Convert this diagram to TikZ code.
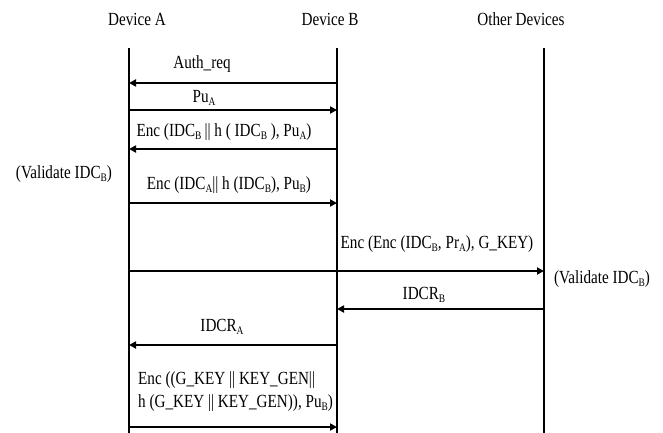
\documentclass[tikz,border=0pt]{standalone}
\usepackage{fontspec}
\setmainfont{Liberation Serif}[FakeStretch=0.82]
\usetikzlibrary{arrows.meta}
\newcommand\sbs[1]{\raisebox{-0.35ex}{\fontsize{11.5}{12}\selectfont #1}}
\begin{document}
\begin{tikzpicture}[x=1pt,y=-1pt,
  life/.style={line width=1.8pt},
  msg/.style={line width=1.8pt,-{Triangle[length=7pt,width=7pt]}},
  lbl/.style={font=\fontsize{18.5}{23}\selectfont, inner sep=0pt}]
\useasboundingbox (0,0) rectangle (663,433);
% headers
\node[lbl] (hA) at (137,19) {Device A};
\node[lbl] (hB) at (330,19) {Device B};
\node[lbl] (hO) at (521,19) {Other Devices};
% lifelines
\coordinate (Atop) at (129,48); \coordinate (Abot) at (129,433);
\coordinate (Btop) at (337,48); \coordinate (Bbot) at (337,433);
\coordinate (Otop) at (544,48); \coordinate (Obot) at (544,433);
\draw[life] (Atop) -- (Abot);
\draw[life] (Btop) -- (Bbot);
\draw[life] (Otop) -- (Obot);
% message endpoints
\coordinate (m1a) at (129,83);  \coordinate (m1b) at (337,83);
\coordinate (m2a) at (129,110); \coordinate (m2b) at (337,110);
\coordinate (m3a) at (129,149); \coordinate (m3b) at (337,149);
\coordinate (m4a) at (129,203); \coordinate (m4b) at (337,203);
\coordinate (m5a) at (129,271); \coordinate (m5o) at (544,271);
\coordinate (m6b) at (337,309); \coordinate (m6o) at (544,309);
\coordinate (m7a) at (129,345); \coordinate (m7b) at (337,345);
\coordinate (m8a) at (129,427); \coordinate (m8b) at (337,427);
\draw[msg] (m1b) -- (m1a);
\draw[msg] (m2a) -- (m2b);
\draw[msg] (m3b) -- (m3a);
\draw[msg] (m4a) -- (m4b);
\draw[msg] (m5a) -- (m5o);
\draw[msg] (m6o) -- (m6b);
\draw[msg] (m7b) -- (m7a);
\draw[msg] (m8a) -- (m8b);
% labels
\node[lbl] (l1) at (202,64) {Auth\_req};
\node[lbl] (l2) at (204,98) {Pu\sbs{A}};
\node[lbl] (l3) at (224,132) {Enc (IDC\sbs{B}\,|| h ( IDC\sbs{B} ), Pu\sbs{A})};
\node[lbl] (l4) at (229,185) {Enc (IDC\sbs{A}|| h (IDC\sbs{B}), Pu\sbs{B})};
\node[lbl] (l5) at (437,244) {Enc (Enc (IDC\sbs{B}, Pr\sbs{A}), G\_KEY)};
\node[lbl] (l6) at (424,295) {IDCR\sbs{B}};
\node[lbl] (l7) at (222,327) {IDCR\sbs{A}};
\node[lbl, anchor=west] (l8a) at (138,380) {Enc ((G\_KEY || KEY\_GEN||};
\node[lbl, anchor=west] (l8b) at (138,403) {h (G\_KEY || KEY\_GEN)), Pu\sbs{B})};
\node[lbl] (v1) at (64,174) {(Validate IDC\sbs{B})};
\node[lbl] (v2) at (602,279) {(Validate IDC\sbs{B})};
\end{tikzpicture}
\end{document}
